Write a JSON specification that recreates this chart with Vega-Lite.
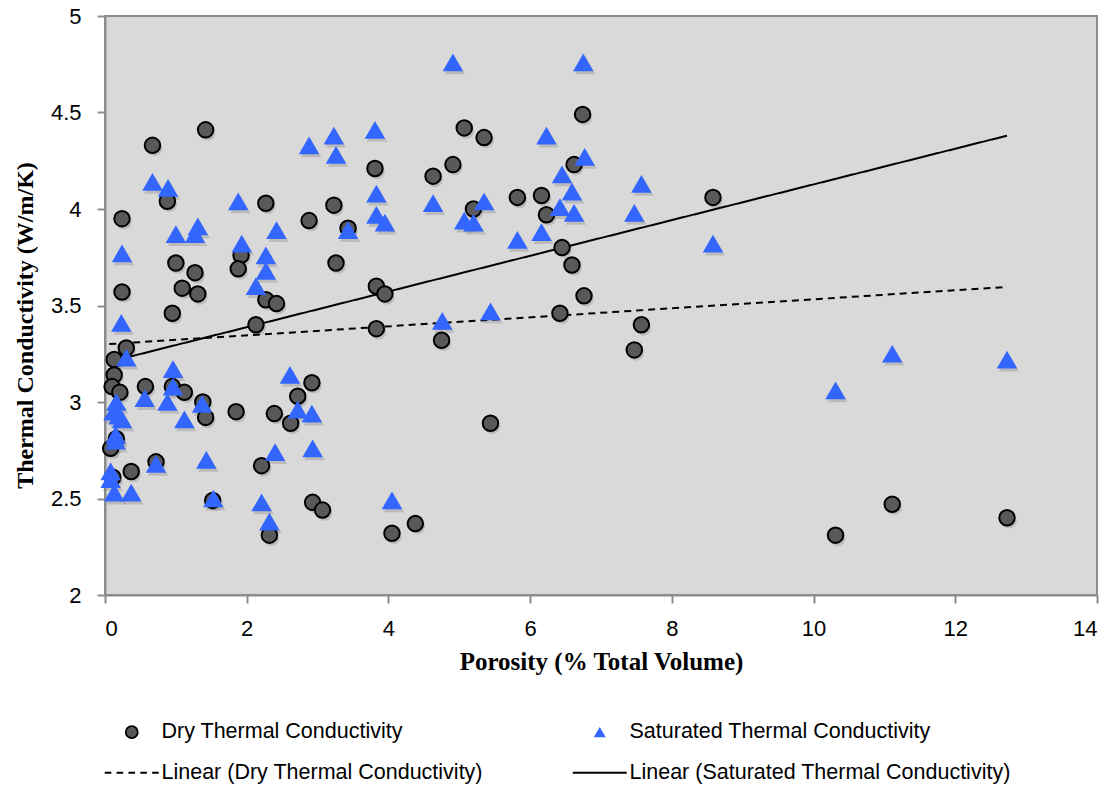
{
  "$schema": "https://vega.github.io/schema/vega-lite/v6.json",
  "width": 992,
  "height": 579,
  "autosize": {"type": "none"},
  "padding": {"left": 105, "top": 16, "right": 21, "bottom": 192},
  "background": "white",
  "config": {
    "view": {"fill": "#d9d9d9", "stroke": "#8c8c8c", "strokeWidth": 2},
    "axis": {
      "grid": false,
      "domainColor": "#8c8c8c",
      "domainWidth": 2,
      "tickColor": "#8c8c8c",
      "tickWidth": 2,
      "tickSize": 8,
      "labelFont": "Liberation Sans",
      "labelFontSize": 22,
      "labelColor": "black",
      "titleFont": "Liberation Serif",
      "titleFontWeight": "bold",
      "titleColor": "black"
    },
    "legend": {
      "orient": "none",
      "direction": "horizontal",
      "legendX": 16,
      "legendY": 705,
      "columns": 2,
      "columnPadding": 86,
      "rowPadding": 18,
      "labelOffset": 19,
      "labelLimit": 0,
      "symbolOffset": 0,
      "labelFont": "Liberation Sans",
      "labelFontSize": 21.5,
      "labelColor": "black",
      "symbolSize": 144,
      "symbolOpacity": 1,
      "symbolStrokeWidth": 1.8
    }
  },
  "datasets": {
    "points": [
      {"p": 0.30, "k": 3.28, "series": "Dry Thermal Conductivity"},
      {"p": 0.13, "k": 3.22, "series": "Dry Thermal Conductivity"},
      {"p": 0.13, "k": 3.14, "series": "Dry Thermal Conductivity"},
      {"p": 0.10, "k": 3.08, "series": "Dry Thermal Conductivity"},
      {"p": 0.21, "k": 3.05, "series": "Dry Thermal Conductivity"},
      {"p": 0.57, "k": 3.08, "series": "Dry Thermal Conductivity"},
      {"p": 0.95, "k": 3.08, "series": "Dry Thermal Conductivity"},
      {"p": 1.12, "k": 3.05, "series": "Dry Thermal Conductivity"},
      {"p": 1.38, "k": 3.00, "series": "Dry Thermal Conductivity"},
      {"p": 1.42, "k": 2.92, "series": "Dry Thermal Conductivity"},
      {"p": 1.85, "k": 2.95, "series": "Dry Thermal Conductivity"},
      {"p": 2.39, "k": 2.94, "series": "Dry Thermal Conductivity"},
      {"p": 2.62, "k": 2.89, "series": "Dry Thermal Conductivity"},
      {"p": 2.72, "k": 3.03, "series": "Dry Thermal Conductivity"},
      {"p": 2.92, "k": 3.10, "series": "Dry Thermal Conductivity"},
      {"p": 0.16, "k": 2.81, "series": "Dry Thermal Conductivity"},
      {"p": 0.08, "k": 2.76, "series": "Dry Thermal Conductivity"},
      {"p": 0.72, "k": 2.69, "series": "Dry Thermal Conductivity"},
      {"p": 0.37, "k": 2.64, "series": "Dry Thermal Conductivity"},
      {"p": 0.11, "k": 2.61, "series": "Dry Thermal Conductivity"},
      {"p": 2.21, "k": 2.67, "series": "Dry Thermal Conductivity"},
      {"p": 1.52, "k": 2.49, "series": "Dry Thermal Conductivity"},
      {"p": 2.93, "k": 2.48, "series": "Dry Thermal Conductivity"},
      {"p": 3.07, "k": 2.44, "series": "Dry Thermal Conductivity"},
      {"p": 2.32, "k": 2.31, "series": "Dry Thermal Conductivity"},
      {"p": 1.42, "k": 4.41, "series": "Dry Thermal Conductivity"},
      {"p": 0.67, "k": 4.33, "series": "Dry Thermal Conductivity"},
      {"p": 0.88, "k": 4.04, "series": "Dry Thermal Conductivity"},
      {"p": 0.24, "k": 3.95, "series": "Dry Thermal Conductivity"},
      {"p": 2.27, "k": 4.03, "series": "Dry Thermal Conductivity"},
      {"p": 3.23, "k": 4.02, "series": "Dry Thermal Conductivity"},
      {"p": 2.88, "k": 3.94, "series": "Dry Thermal Conductivity"},
      {"p": 3.43, "k": 3.90, "series": "Dry Thermal Conductivity"},
      {"p": 1.00, "k": 3.72, "series": "Dry Thermal Conductivity"},
      {"p": 1.27, "k": 3.67, "series": "Dry Thermal Conductivity"},
      {"p": 1.09, "k": 3.59, "series": "Dry Thermal Conductivity"},
      {"p": 1.31, "k": 3.56, "series": "Dry Thermal Conductivity"},
      {"p": 1.92, "k": 3.76, "series": "Dry Thermal Conductivity"},
      {"p": 1.88, "k": 3.69, "series": "Dry Thermal Conductivity"},
      {"p": 3.26, "k": 3.72, "series": "Dry Thermal Conductivity"},
      {"p": 0.24, "k": 3.57, "series": "Dry Thermal Conductivity"},
      {"p": 0.95, "k": 3.46, "series": "Dry Thermal Conductivity"},
      {"p": 2.27, "k": 3.53, "series": "Dry Thermal Conductivity"},
      {"p": 2.42, "k": 3.51, "series": "Dry Thermal Conductivity"},
      {"p": 2.13, "k": 3.40, "series": "Dry Thermal Conductivity"},
      {"p": 5.07, "k": 4.42, "series": "Dry Thermal Conductivity"},
      {"p": 5.35, "k": 4.37, "series": "Dry Thermal Conductivity"},
      {"p": 4.91, "k": 4.23, "series": "Dry Thermal Conductivity"},
      {"p": 4.63, "k": 4.17, "series": "Dry Thermal Conductivity"},
      {"p": 3.81, "k": 4.21, "series": "Dry Thermal Conductivity"},
      {"p": 5.20, "k": 4.00, "series": "Dry Thermal Conductivity"},
      {"p": 5.82, "k": 4.06, "series": "Dry Thermal Conductivity"},
      {"p": 6.16, "k": 4.07, "series": "Dry Thermal Conductivity"},
      {"p": 6.23, "k": 3.97, "series": "Dry Thermal Conductivity"},
      {"p": 6.62, "k": 4.23, "series": "Dry Thermal Conductivity"},
      {"p": 6.74, "k": 4.49, "series": "Dry Thermal Conductivity"},
      {"p": 3.83, "k": 3.60, "series": "Dry Thermal Conductivity"},
      {"p": 3.95, "k": 3.56, "series": "Dry Thermal Conductivity"},
      {"p": 3.83, "k": 3.38, "series": "Dry Thermal Conductivity"},
      {"p": 6.45, "k": 3.80, "series": "Dry Thermal Conductivity"},
      {"p": 6.59, "k": 3.71, "series": "Dry Thermal Conductivity"},
      {"p": 6.42, "k": 3.46, "series": "Dry Thermal Conductivity"},
      {"p": 6.76, "k": 3.55, "series": "Dry Thermal Conductivity"},
      {"p": 4.75, "k": 3.32, "series": "Dry Thermal Conductivity"},
      {"p": 5.44, "k": 2.89, "series": "Dry Thermal Conductivity"},
      {"p": 4.05, "k": 2.32, "series": "Dry Thermal Conductivity"},
      {"p": 4.38, "k": 2.37, "series": "Dry Thermal Conductivity"},
      {"p": 7.57, "k": 3.40, "series": "Dry Thermal Conductivity"},
      {"p": 7.47, "k": 3.27, "series": "Dry Thermal Conductivity"},
      {"p": 8.58, "k": 4.06, "series": "Dry Thermal Conductivity"},
      {"p": 10.31, "k": 2.31, "series": "Dry Thermal Conductivity"},
      {"p": 11.11, "k": 2.47, "series": "Dry Thermal Conductivity"},
      {"p": 12.73, "k": 2.40, "series": "Dry Thermal Conductivity"},
      {"p": 0.30, "k": 3.23, "series": "Saturated Thermal Conductivity"},
      {"p": 0.96, "k": 3.17, "series": "Saturated Thermal Conductivity"},
      {"p": 0.96, "k": 3.08, "series": "Saturated Thermal Conductivity"},
      {"p": 0.56, "k": 3.02, "series": "Saturated Thermal Conductivity"},
      {"p": 0.88, "k": 3.00, "series": "Saturated Thermal Conductivity"},
      {"p": 1.37, "k": 2.99, "series": "Saturated Thermal Conductivity"},
      {"p": 1.12, "k": 2.91, "series": "Saturated Thermal Conductivity"},
      {"p": 0.16, "k": 3.00, "series": "Saturated Thermal Conductivity"},
      {"p": 0.12, "k": 2.95, "series": "Saturated Thermal Conductivity"},
      {"p": 0.19, "k": 2.93, "series": "Saturated Thermal Conductivity"},
      {"p": 0.24, "k": 2.91, "series": "Saturated Thermal Conductivity"},
      {"p": 0.15, "k": 2.83, "series": "Saturated Thermal Conductivity"},
      {"p": 0.15, "k": 2.80, "series": "Saturated Thermal Conductivity"},
      {"p": 0.08, "k": 2.64, "series": "Saturated Thermal Conductivity"},
      {"p": 0.08, "k": 2.60, "series": "Saturated Thermal Conductivity"},
      {"p": 0.13, "k": 2.53, "series": "Saturated Thermal Conductivity"},
      {"p": 0.37, "k": 2.53, "series": "Saturated Thermal Conductivity"},
      {"p": 0.72, "k": 2.68, "series": "Saturated Thermal Conductivity"},
      {"p": 1.43, "k": 2.70, "series": "Saturated Thermal Conductivity"},
      {"p": 1.53, "k": 2.50, "series": "Saturated Thermal Conductivity"},
      {"p": 2.21, "k": 2.48, "series": "Saturated Thermal Conductivity"},
      {"p": 2.32, "k": 2.38, "series": "Saturated Thermal Conductivity"},
      {"p": 2.40, "k": 2.74, "series": "Saturated Thermal Conductivity"},
      {"p": 2.61, "k": 3.14, "series": "Saturated Thermal Conductivity"},
      {"p": 2.72, "k": 2.96, "series": "Saturated Thermal Conductivity"},
      {"p": 2.92, "k": 2.94, "series": "Saturated Thermal Conductivity"},
      {"p": 2.93, "k": 2.76, "series": "Saturated Thermal Conductivity"},
      {"p": 2.88, "k": 4.33, "series": "Saturated Thermal Conductivity"},
      {"p": 3.23, "k": 4.38, "series": "Saturated Thermal Conductivity"},
      {"p": 3.26, "k": 4.28, "series": "Saturated Thermal Conductivity"},
      {"p": 0.67, "k": 4.14, "series": "Saturated Thermal Conductivity"},
      {"p": 0.89, "k": 4.11, "series": "Saturated Thermal Conductivity"},
      {"p": 1.88, "k": 4.04, "series": "Saturated Thermal Conductivity"},
      {"p": 0.24, "k": 3.77, "series": "Saturated Thermal Conductivity"},
      {"p": 1.00, "k": 3.87, "series": "Saturated Thermal Conductivity"},
      {"p": 1.31, "k": 3.91, "series": "Saturated Thermal Conductivity"},
      {"p": 1.27, "k": 3.87, "series": "Saturated Thermal Conductivity"},
      {"p": 1.93, "k": 3.82, "series": "Saturated Thermal Conductivity"},
      {"p": 2.42, "k": 3.89, "series": "Saturated Thermal Conductivity"},
      {"p": 2.27, "k": 3.76, "series": "Saturated Thermal Conductivity"},
      {"p": 2.27, "k": 3.68, "series": "Saturated Thermal Conductivity"},
      {"p": 2.13, "k": 3.60, "series": "Saturated Thermal Conductivity"},
      {"p": 0.23, "k": 3.41, "series": "Saturated Thermal Conductivity"},
      {"p": 4.91, "k": 4.76, "series": "Saturated Thermal Conductivity"},
      {"p": 3.81, "k": 4.41, "series": "Saturated Thermal Conductivity"},
      {"p": 3.83, "k": 4.08, "series": "Saturated Thermal Conductivity"},
      {"p": 3.83, "k": 3.97, "series": "Saturated Thermal Conductivity"},
      {"p": 3.95, "k": 3.93, "series": "Saturated Thermal Conductivity"},
      {"p": 3.43, "k": 3.89, "series": "Saturated Thermal Conductivity"},
      {"p": 4.63, "k": 4.03, "series": "Saturated Thermal Conductivity"},
      {"p": 5.35, "k": 4.04, "series": "Saturated Thermal Conductivity"},
      {"p": 5.07, "k": 3.94, "series": "Saturated Thermal Conductivity"},
      {"p": 5.20, "k": 3.93, "series": "Saturated Thermal Conductivity"},
      {"p": 6.23, "k": 4.38, "series": "Saturated Thermal Conductivity"},
      {"p": 6.45, "k": 4.18, "series": "Saturated Thermal Conductivity"},
      {"p": 6.59, "k": 4.09, "series": "Saturated Thermal Conductivity"},
      {"p": 6.42, "k": 4.01, "series": "Saturated Thermal Conductivity"},
      {"p": 6.62, "k": 3.98, "series": "Saturated Thermal Conductivity"},
      {"p": 6.16, "k": 3.88, "series": "Saturated Thermal Conductivity"},
      {"p": 5.82, "k": 3.84, "series": "Saturated Thermal Conductivity"},
      {"p": 4.76, "k": 3.42, "series": "Saturated Thermal Conductivity"},
      {"p": 5.44, "k": 3.47, "series": "Saturated Thermal Conductivity"},
      {"p": 4.05, "k": 2.49, "series": "Saturated Thermal Conductivity"},
      {"p": 6.75, "k": 4.76, "series": "Saturated Thermal Conductivity"},
      {"p": 6.77, "k": 4.27, "series": "Saturated Thermal Conductivity"},
      {"p": 7.57, "k": 4.13, "series": "Saturated Thermal Conductivity"},
      {"p": 7.47, "k": 3.98, "series": "Saturated Thermal Conductivity"},
      {"p": 8.58, "k": 3.82, "series": "Saturated Thermal Conductivity"},
      {"p": 10.31, "k": 3.06, "series": "Saturated Thermal Conductivity"},
      {"p": 11.11, "k": 3.25, "series": "Saturated Thermal Conductivity"},
      {"p": 12.73, "k": 3.22, "series": "Saturated Thermal Conductivity"}
    ],
    "trends": [
      {"p": 0.06, "k": 3.30, "series": "Linear (Dry Thermal Conductivity)"},
      {"p": 12.73, "k": 3.596, "series": "Linear (Dry Thermal Conductivity)"},
      {"p": 0.08, "k": 3.21, "series": "Linear (Saturated Thermal Conductivity)"},
      {"p": 12.73, "k": 4.38, "series": "Linear (Saturated Thermal Conductivity)"}
    ]
  },
  "encoding": {
    "x": {
      "field": "p",
      "type": "quantitative",
      "scale": {"domain": [0, 14], "nice": false, "zero": false},
      "axis": {
        "title": "Porosity (% Total Volume)",
        "values": [0, 2, 4, 6, 8, 10, 12, 14],
        "format": "~g",
        "labelPadding": 15,
        "titleFontSize": 25,
        "titleY": 66,
        "titleBaseline": "middle"
      }
    },
    "y": {
      "field": "k",
      "type": "quantitative",
      "scale": {"domain": [2, 5], "nice": false, "zero": false},
      "axis": {
        "title": "Thermal Conductivity (W/m/K)",
        "values": [2, 2.5, 3, 3.5, 4, 4.5, 5],
        "format": "~g",
        "labelPadding": 16,
        "titleFontSize": 24,
        "titleX": -80,
        "titleY": 309,
        "titleAngle": -90,
        "titleAlign": "center",
        "titleBaseline": "middle"
      }
    }
  },
  "layer": [
    {
      "data": {"name": "points"},
      "mark": {"type": "point", "filled": true, "color": "#6e6e6e", "opacity": 0.28, "strokeWidth": 0, "xOffset": 2, "yOffset": 3},
      "encoding": {
        "shape": {"field": "series", "type": "nominal", "legend": {"title": null}},
        "size": {"field": "series", "type": "nominal", "legend": null}
      }
    },
    {
      "data": {"name": "trends"},
      "mark": {"type": "line", "strokeWidth": 2},
      "encoding": {
        "stroke": {"field": "series", "type": "nominal", "legend": {"title": null}},
        "strokeDash": {
          "field": "series",
          "type": "nominal",
          "legend": null,
          "scale": {
            "domain": ["Linear (Dry Thermal Conductivity)", "Linear (Saturated Thermal Conductivity)"],
            "range": [[7, 5], [1, 0]]
          }
        }
      }
    },
    {
      "data": {"name": "points"},
      "mark": {"type": "point", "filled": true, "opacity": 1, "strokeWidth": 2},
      "encoding": {
        "fill": {
          "field": "series",
          "type": "nominal",
          "legend": {"title": null},
          "scale": {
            "domain": ["Dry Thermal Conductivity", "Saturated Thermal Conductivity", "Linear (Dry Thermal Conductivity)", "Linear (Saturated Thermal Conductivity)"],
            "range": ["#595959", "#3366ff", "transparent", "transparent"]
          }
        },
        "stroke": {
          "field": "series",
          "type": "nominal",
          "legend": {"title": null},
          "scale": {
            "domain": ["Dry Thermal Conductivity", "Saturated Thermal Conductivity", "Linear (Dry Thermal Conductivity)", "Linear (Saturated Thermal Conductivity)"],
            "range": ["black", "transparent", "black", "black"]
          }
        },
        "shape": {
          "field": "series",
          "type": "nominal",
          "legend": {"title": null},
          "scale": {
            "domain": ["Dry Thermal Conductivity", "Saturated Thermal Conductivity", "Linear (Dry Thermal Conductivity)", "Linear (Saturated Thermal Conductivity)"],
            "range": ["circle", "triangle-up", "M-4.5,0H-3.4M-2.525,0H-1.425M-0.55,0H0.55M1.425,0H2.525M3.4,0H4.5", "M-4.5,0H4.5"]
          }
        },
        "size": {
          "field": "series",
          "type": "nominal",
          "legend": null,
          "scale": {
            "domain": ["Dry Thermal Conductivity", "Saturated Thermal Conductivity"],
            "range": [240, 420]
          }
        }
      }
    }
  ]
}
